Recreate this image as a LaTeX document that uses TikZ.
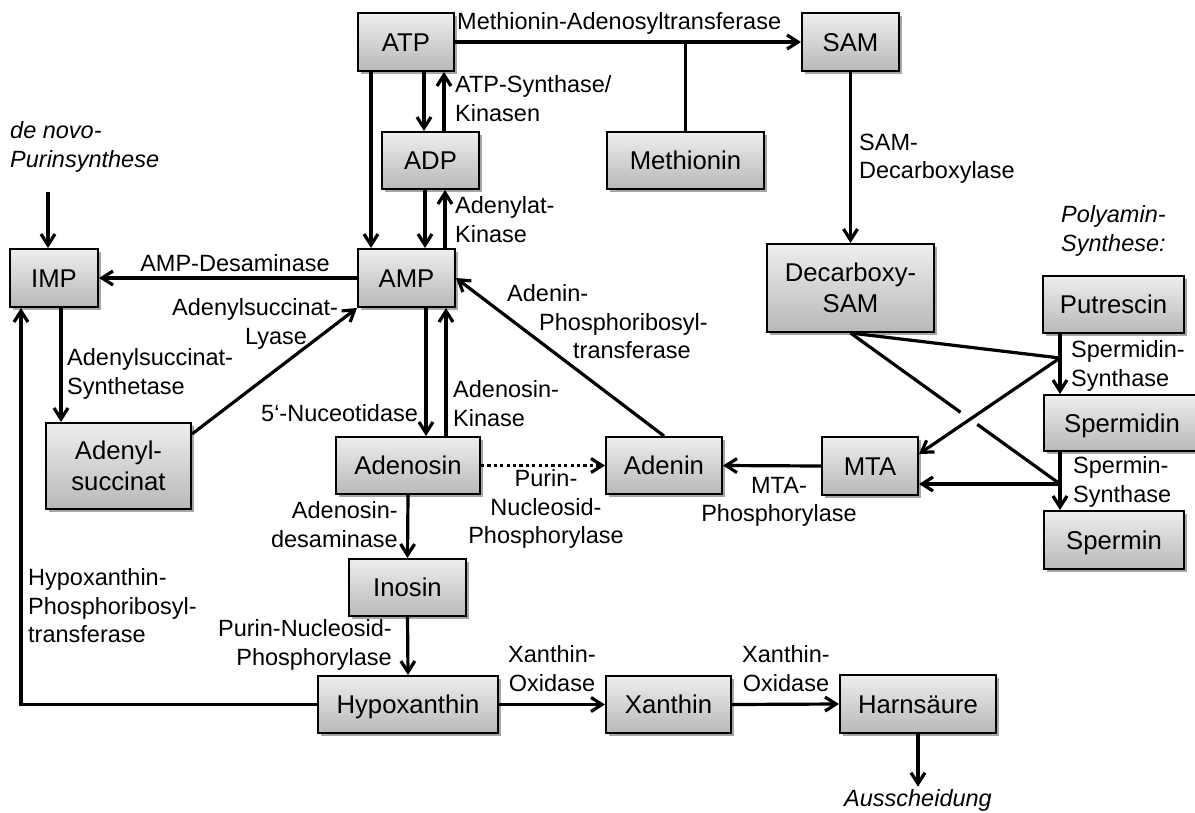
\documentclass[tikz,border=0pt]{standalone}
\usepackage{fontspec}
\setmainfont{Liberation Sans}
\usetikzlibrary{arrows.meta,shadows,calc}
\definecolor{boxtop}{RGB}{238,238,238}
\definecolor{boxbot}{RGB}{184,184,184}
\newcommand{\lblfont}{\fontsize{23.5}{28.2}\selectfont}
\newcommand{\boxfont}{\fontsize{25.7}{30.5}\selectfont}
\begin{document}
\begin{tikzpicture}[x=1pt,y=-1pt,
  box/.style={draw=black, line width=2pt, top color=boxtop, bottom color=boxbot,
    inner sep=0pt, font=\boxfont, align=center,
    drop shadow={shadow xshift=2.5pt, shadow yshift=-2.5pt, opacity=0.35, fill=black}},
  sbox/.style={box, text height=18.4pt, text depth=0pt},
  lbl/.style={inner sep=0pt, font=\lblfont, execute at begin node=\strut},
  ilbl/.style={lbl, font=\lblfont\itshape},
  arr/.style={line width=3.2pt, -{Straight Barb[length=11pt,width=14pt]}},
  ln/.style={line width=3.2pt},
  dotarr/.style={arr, dash pattern=on 3.2pt off 3.2pt}
]
\useasboundingbox (0,0) rectangle (1195,812);

% boxes
\node[sbox, minimum width=96pt, minimum height=58pt] (atp) at (406,42) {ATP};
\node[sbox, minimum width=97pt, minimum height=58pt] (sam) at (850.5,42) {SAM};
\node[sbox, minimum width=97pt, minimum height=57pt] (adp) at (430.5,160.5) {ADP};
\node[sbox, minimum width=157pt, minimum height=57pt] (meth) at (685.5,160.5) {Methionin};
\node[sbox, minimum width=88pt, minimum height=58pt] (imp) at (54,278) {IMP};
\node[sbox, minimum width=97pt, minimum height=58pt] (amp) at (406.5,278) {AMP};
\node[box, minimum width=167pt, minimum height=88pt] (dsam) at (850.5,288) {Decarboxy-\\SAM};
\node[sbox, minimum width=141pt, minimum height=57pt] (put) at (1113.5,304.5) {Putrescin};
\node[sbox, minimum width=156pt, minimum height=56pt] (spd) at (1122,423) {Spermidin};
\node[sbox, minimum width=140pt, minimum height=58pt] (spm) at (1114,540) {Spermin};
\node[box, minimum width=145pt, minimum height=86pt] (adsc) at (118.5,466) {Adenyl-\\succinat};
\node[sbox, minimum width=144pt, minimum height=57pt] (ados) at (408,465.5) {Adenosin};
\node[sbox, minimum width=116pt, minimum height=57pt] (aden) at (664,465.5) {Adenin};
\node[sbox, minimum width=96pt, minimum height=58pt] (mta) at (870,466) {MTA};
\node[sbox, minimum width=117pt, minimum height=57pt] (ino) at (407.5,587.5) {Inosin};
\node[sbox, minimum width=180pt, minimum height=57pt] (hyp) at (408,704.5) {Hypoxanthin};
\node[sbox, minimum width=125pt, minimum height=57pt] (xan) at (668.5,704.5) {Xanthin};
\node[sbox, minimum width=156pt, minimum height=58pt] (harn) at (918,704) {Harnsäure};

% labels
\node[lbl, anchor=north west] (lmat) at (457,9.7) {Methionin-Adenosyltransferase};
\node[lbl, anchor=north west, align=left] (latps) at (455,75.7) {ATP-Synthase/\\Kinasen};
\node[lbl, anchor=north west, align=left] (ladk) at (455,196.7) {Adenylat-\\Kinase};
\node[lbl, anchor=north west, align=left] (lsamd) at (859,133.7) {SAM-\\Decarboxylase};
\node[ilbl, anchor=north west, align=left] (denovo) at (10,121.7) {de novo-\\Purinsynthese};
\node[lbl, anchor=north] (lampd) at (235,251.7) {AMP-Desaminase};
\node[ilbl, anchor=north west, align=left] (lpoly) at (1061,205.7) {Polyamin-\\Synthese:};
\node[lbl, anchor=north west, align=left] (llyase) at (172,298.7) {Adenylsuccinat-\\\hspace*{73pt}Lyase};
\node[lbl, anchor=north west, align=left] (laprt) at (507,284.7) {Adenin-\\\hspace*{32pt}Phosphoribosyl-\\\hspace*{66pt}transferase};
\node[lbl, anchor=north west, align=left] (lass) at (67,348.7) {Adenylsuccinat-\\Synthetase};
\node[lbl, anchor=north west] (lnuc) at (261,401.7) {5‘-Nuceotidase};
\node[lbl, anchor=north west, align=left] (ladok) at (453,380.7) {Adenosin-\\Kinase};
\node[lbl, anchor=north west, align=left] (lspds) at (1071,340.7) {Spermidin-\\Synthase};
\node[lbl, anchor=north, align=center] (lpnp1) at (546,469.7) {Purin-\\Nucleosid-\\Phosphorylase};
\node[lbl, anchor=north, align=center] (lmtap) at (779,476.7) {MTA-\\Phosphorylase};
\node[lbl, anchor=north west, align=left] (lspms) at (1073,456.7) {Spermin-\\Synthase};
\node[lbl, anchor=north east, align=right] (lada) at (398,501.7) {Adenosin-\\desaminase};
\node[lbl, anchor=north west, align=left] (lhprt) at (28,568.7) {Hypoxanthin-\\Phosphoribosyl-\\transferase};
\node[lbl, anchor=north east, align=right] (lpnp2) at (392,619.7) {Purin-Nucleosid-\\Phosphorylase};
\node[lbl, anchor=north, align=center] (lxo1) at (552,645.7) {Xanthin-\\Oxidase};
\node[lbl, anchor=north, align=center] (lxo2) at (786,645.7) {Xanthin-\\Oxidase};
\node[ilbl, anchor=north] (aus) at (918,786.7) {Ausscheidung};

% junction points
\coordinate (dn) at (48,192);
\coordinate (j1) at (1060,358);
\coordinate (j2) at (1060,484);

% connectors
\draw[arr] (atp.east) -- (sam.west);
\draw[ln] (meth.north) -- (meth.north |- atp.east);
\draw[arr] ([xshift=-35pt]atp.south) -- ([xshift=-35.5pt]amp.north);
\draw[arr] ([xshift=18pt]atp.south) -- ([xshift=-6.5pt]adp.north);
\draw[arr] ([xshift=13.5pt]adp.north) -- ([xshift=38pt]atp.south);
\draw[arr] ([xshift=-5.5pt]adp.south) -- ([xshift=18.5pt]amp.north);
\draw[arr] ([xshift=38.5pt]amp.north) -- ([xshift=14.5pt]adp.south);
\draw[arr] ([xshift=19.5pt]amp.south) -- ([xshift=18pt]ados.north);
\draw[arr] ([xshift=38pt]ados.north) -- ([xshift=39.5pt]amp.south);
\draw[arr] (amp.west) -- (imp.east);
\draw[arr] (dn) -- (dn |- imp.north);
\draw[arr] ([xshift=7pt]imp.south) -- ([xshift=-57.5pt]adsc.north);
\draw[arr] ([yshift=-12pt]adsc.north east) -- (amp.south west);
\draw[arr] (aden.north) -- (amp.east);
\draw[dotarr] (ados.east) -- (aden.west);
\draw[arr] (mta.west) -- (aden.east);
\draw[arr] (ados.south) -- (ino.north);
\draw[arr] (ino.south) -- (hyp.north);
\draw[arr] (hyp.west) -| ([xshift=12pt]imp.south west);
\draw[arr] (hyp.east) -- (xan.west);
\draw[arr] (xan.east) -- (harn.west);
\draw[arr] (harn.south) -- (aus.north);
\draw[arr] (sam.south) -- (dsam.north);
\draw[arr] (put.south -| j1) -- (spd.north -| j1);
\draw[arr] (spd.south -| j1) -- (spm.north -| j1);
\draw[ln] (dsam.south) -- (j1);
\draw[arr] (j1) -- ($(mta.north east)!0.3!(mta.south east)$);
\draw[ln] (dsam.south) -- ($(dsam.south)!0.525!(j2)$);
\draw[ln] ($(dsam.south)!0.605!(j2)$) -- (j2);
\draw[arr] (j2) -- (j2 -| mta.east);
\end{tikzpicture}
\end{document}
